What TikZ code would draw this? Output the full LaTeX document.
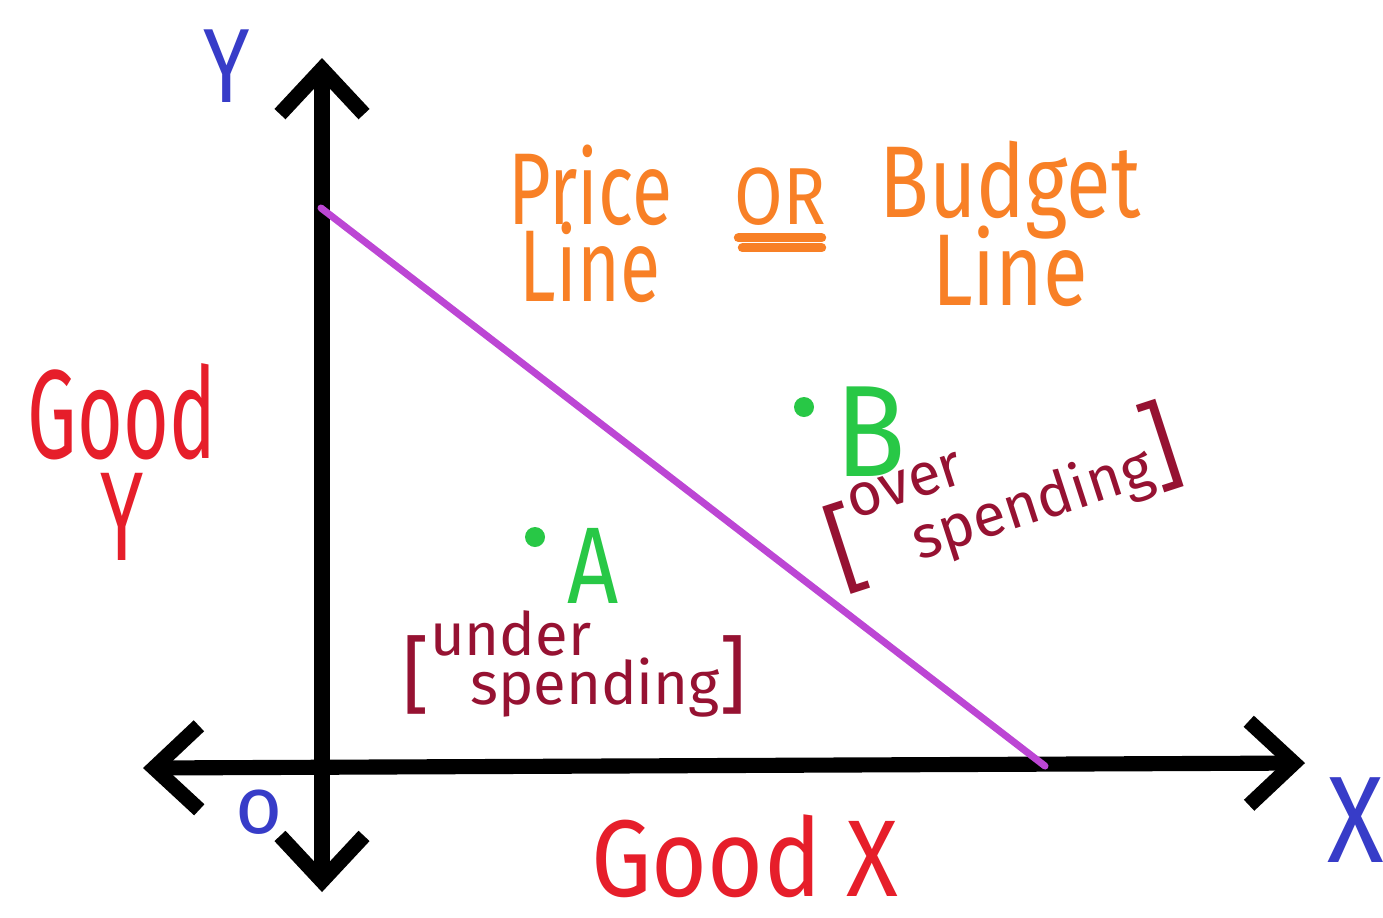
\documentclass[tikz,border=0pt]{standalone}
\usepackage{fontspec}
\setmainfont{Fira Sans}
\usetikzlibrary{arrows.meta}
\definecolor{axblue}{RGB}{55,60,200}
\definecolor{goodred}{RGB}{230,30,42}
\definecolor{orng}{RGB}{248,128,38}
\definecolor{grn}{RGB}{40,200,70}
\definecolor{dred}{RGB}{150,18,50}
\definecolor{purp}{RGB}{188,70,212}
\newcommand{\nar}[2][0.75]{\scalebox{#1}[1]{#2}}
\newcommand{\stk}[3]{\vbox{\baselineskip=#1\lineskiplimit=-100pt\lineskip=0pt\halign{\hfil##\hfil\cr#2\cr#3\cr}}}
\newcommand{\brk}[2][24]{{\fontsize{#1}{#1}\selectfont#2}}
\begin{document}
\begin{tikzpicture}[x=0.01cm,y=-0.01cm,
  axis/.style={line width=4.3pt, line cap=round, line join=round,
    arrows={Straight Barb[length=4.5mm,width=8.4mm]-Straight Barb[length=4.5mm,width=8.4mm]}},
  budget/.style={draw=purp, line width=2pt, line cap=round},
  lbl/.style={inner sep=0pt, outer sep=0pt},
  dot/.style={circle, fill=grn, inner sep=0pt, minimum size=0.2cm},
  axlabel/.style={lbl, text=axblue},
  goodlbl/.style={lbl, text=goodred},
  titlelbl/.style={lbl, text=orng, font=\fontsize{29}{29}\selectfont},
  ptlbl/.style={lbl, text=grn},
  spendlbl/.style={lbl, text=dred, font=\fontsize{17}{17}\selectfont},
  ul/.style={draw=orng, line width=2.6pt, line cap=round}]
\useasboundingbox (0,0) rectangle (1383,917);
\fill[white] (0,0) rectangle (1383,917);

% axes
\coordinate (ytop) at (322,58);
\coordinate (ybot) at (322,892);
\coordinate (xleft) at (143,768);
\coordinate (xright) at (1305,763);
\draw[axis] (ybot) -- (ytop);
\draw[axis] (xleft) -- (xright);

% budget line
\coordinate (bY) at (321,208);
\coordinate (bX) at (1045,766);
\draw[budget] (bY) -- (bX);

% axis labels
\node[axlabel, font=\fontsize{30}{30}\selectfont] (ylab) at (227,66) {\nar[0.8]{Y}};
\node[axlabel, font=\fontsize{35}{35}\selectfont] (xlab) at (1356,820) {\nar[0.85]{X}};
\node[axlabel, font=\fontsize{23}{23}\selectfont] (olab) at (259,812) {o};

\node[goodlbl, font=\fontsize{36}{36}\selectfont] (gy) at (122,462) {\nar[0.62]{\stk{29pt}{Good}{Y}}};
\node[goodlbl, font=\fontsize{31}{31}\selectfont] (gx) at (745,856) {\nar[0.88]{Good X}};

% title
\node[titlelbl] (price) at (590,224) {\nar[0.72]{\stk{22pt}{Price}{Line}}};
\node[titlelbl, font=\fontsize{23}{23}\selectfont] (or) at (780,197) {\nar[0.87]{OR}};
\draw[ul] ([shift={(4,12)}]or.south west) -- ([shift={(-4,12)}]or.south east);
\draw[ul] ([shift={(8,22)}]or.south west) -- ([shift={(-4,22)}]or.south east);
\node[titlelbl] (budgetl) at (1010,224) {\nar[0.8]{\stk{25pt}{Budget}{Line}}};

% points
\node[dot] (A) at (535,537) {};
\node[dot] (B) at (804,407) {};
\node[ptlbl, font=\fontsize{31}{31}\selectfont] (Alab) at (593,566) {\nar[0.82]{A}};
\node[ptlbl, font=\fontsize{37}{37}\selectfont] (Blab) at (871,432) {\nar[0.89]{B}};

\node[spendlbl] (under) at (575,664) {\brk{[}\stk{14pt}{under\hfill}{\hspace{0.4cm}spending}\brk{]}};
\node[spendlbl, rotate=18] (over) at (1002,492) {\brk[28]{[}\stk{17pt}{over\hfill}{\hspace{0.5cm}spending}\brk[28]{]}};
\end{tikzpicture}
\end{document}
